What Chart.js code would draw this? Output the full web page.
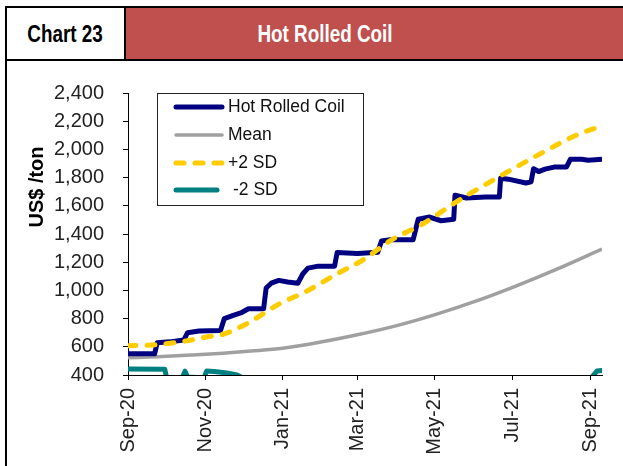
<!DOCTYPE html>
<html>
<head>
<meta charset="utf-8">
<script src="https://cdn.jsdelivr.net/npm/chart.js@4.4.1/dist/chart.umd.min.js"></script>
<style>
  html, body { margin: 0; padding: 0; background: #fff; }
  body { width: 623px; height: 466px; position: relative; overflow: hidden; font-family: "Liberation Sans", Arial, sans-serif; }
  .frame { position: absolute; left: 5px; top: 6px; width: 640px; height: 480px; border-left: 2px solid #000; border-top: 2px solid #000; }
  .hdr-line { position: absolute; left: 5px; top: 59px; width: 640px; height: 2px; background: #000; }
  .hdr-div { position: absolute; left: 124px; top: 6px; width: 2px; height: 55px; background: #000; }
  .hdr-red { position: absolute; left: 126px; top: 8px; width: 520px; height: 51px; background: #C0504D; }
  .hdr-text { position: absolute; top: 34px; transform: translate(-50%, -50%) scaleX(0.82); font-family: "Liberation Sans", sans-serif; font-weight: bold; font-size: 23px; white-space: nowrap; }
  #wrap { position: absolute; left: 8px; top: 62px; width: 615px; height: 404px; }
</style>
</head>
<body>
<div class="frame"></div>
<div class="hdr-red"></div>
<div class="hdr-line"></div>
<div class="hdr-div"></div>
<div class="hdr-text" style="left:65px;color:#000">Chart 23</div>
<div class="hdr-text" style="left:325px;color:#fff">Hot Rolled Coil</div>
<div id="wrap"><canvas id="chart" width="615" height="404"></canvas></div>
<script>
// days counted from 1 Sep 2020
const tickDays = [0, 61, 122, 181, 242, 303, 365];
const tickLabels = ['Sep-20', 'Nov-20', 'Jan-21', 'Mar-21', 'May-21', 'Jul-21', 'Sep-21'];

const hrcDays = [0, 21, 23, 33, 44, 47, 56, 73, 76, 83, 89, 95, 107, 109, 113, 119, 126, 134, 138, 142,
  150, 163, 165, 181, 197, 200, 207, 225, 229, 238, 247, 257, 258, 267, 282, 293, 294, 300, 314, 318,
  320, 324, 329, 337, 346, 349, 358, 363, 374];
const hrcValues = [550, 550, 628, 635, 648, 700, 712, 715, 800, 823, 840, 870, 870, 1017, 1051, 1071, 1060, 1051, 1118, 1158,
  1172, 1172, 1268, 1262, 1270, 1350, 1360, 1360, 1505, 1520, 1494, 1505, 1675, 1655, 1662, 1662, 1796, 1789, 1762, 1770,
  1863, 1843, 1860, 1876, 1876, 1930, 1930, 1923, 1930];

const meanDays = [0, 23, 50, 75, 97, 122, 150, 181, 212, 243, 275, 306, 337, 374];
const meanValues = [522, 530, 542, 555, 570, 590, 630, 685, 750, 830, 925, 1030, 1145, 1293];

const upperDays = [0, 23, 50, 61, 75, 95, 119, 140, 165, 187, 207, 233, 259, 274, 300, 327, 353, 374];
const upperValues = [608, 615, 648, 668, 689, 770, 903, 990, 1118, 1225, 1353, 1474, 1628, 1709, 1843, 1977, 2098, 2168];

const lowerDays = [0, 29, 31, 43, 45, 47, 60, 62, 68, 78, 86, 95, 140, 250, 330, 366, 370, 374];
const lowerValues = [442, 441, 360, 385, 427, 385, 380, 428, 425, 415, 400, 360, 250, 200, 260, 385, 428, 432];

const pts = (xs, ys) => xs.map((x, i) => ({ x, y: ys[i] }));

const tickFont = { family: 'Liberation Sans', size: 20 };

const yTitle = {
  id: 'yTitle',
  afterDraw(chart) {
    const ctx = chart.ctx;
    ctx.save();
    ctx.translate(29, 125);
    ctx.rotate(-Math.PI / 2);
    ctx.font = 'bold 20px "Liberation Sans"';
    ctx.fillStyle = '#000';
    ctx.textAlign = 'center';
    ctx.textBaseline = 'middle';
    ctx.fillText('US$ /ton', 0, 0);
    ctx.restore();
  }
};

const boxLegend = {
  id: 'boxLegend',
  afterDraw(chart) {
    const ctx = chart.ctx;
    ctx.save();
    ctx.fillStyle = '#fff';
    ctx.fillRect(149.5, 31.5, 206, 112);
    ctx.strokeStyle = '#222';
    ctx.lineWidth = 1;
    ctx.strokeRect(149.5, 31.5, 206, 112);
    const rows = [45, 73, 101, 128];
    const ends = [214, 214, 214, 209];
    chart.data.datasets.forEach((ds, i) => {
      const y = rows[i];
      ctx.beginPath();
      ctx.strokeStyle = ds.borderColor;
      ctx.lineWidth = ds.borderWidth;
      ctx.lineCap = 'round';
      ctx.setLineDash(ds.borderDash || []);
      ctx.moveTo(168, y);
      ctx.lineTo(ends[i], y);
      ctx.stroke();
      ctx.setLineDash([]);
      ctx.font = '17.5px "Liberation Sans"';
      ctx.fillStyle = '#111';
      ctx.textBaseline = 'middle';
      ctx.fillText(ds.label, i === 3 ? 225 : 220, y);
    });
    ctx.restore();
  }
};

new Chart(document.getElementById('chart'), {
  type: 'line',
  data: {
    datasets: [
      {
        label: 'Hot Rolled Coil',
        data: pts(hrcDays, hrcValues),
        borderColor: '#000080',
        borderWidth: 5,
        pointRadius: 0,
        tension: 0,
        borderJoinStyle: 'round',
        order: 1,
      },
      {
        label: 'Mean',
        data: pts(meanDays, meanValues),
        borderColor: '#A0A0A0',
        borderWidth: 3.5,
        pointRadius: 0,
        cubicInterpolationMode: 'monotone',
        order: 3,
      },
      {
        label: '+2 SD',
        data: pts(upperDays, upperValues),
        borderColor: '#FFCC00',
        borderWidth: 5,
        borderDash: [8, 11],
        borderCapStyle: 'round',
        pointRadius: 0,
        cubicInterpolationMode: 'monotone',
        order: 0,
      },
      {
        label: '-2 SD',
        data: pts(lowerDays, lowerValues),
        borderColor: '#008080',
        borderWidth: 5,
        borderCapStyle: 'round',
        borderJoinStyle: 'round',
        pointRadius: 0,
        tension: 0,
        clip: 0,
        order: 2,
      },
    ],
  },
  options: {
    responsive: false,
    animation: false,
    layout: { padding: { top: 15, right: 16, left: 0, bottom: 0 } },
    plugins: { legend: { display: false }, tooltip: { enabled: false } },
    scales: {
      x: {
        type: 'linear',
        min: 0,
        max: 374,
        afterBuildTicks: axis => { axis.ticks = tickDays.map(v => ({ value: v })); },
        afterFit: axis => { axis.height = 91; },
        ticks: {
          callback: v => tickLabels[tickDays.indexOf(v)] ?? '',
          minRotation: 90,
          maxRotation: 90,
          autoSkip: false,
          padding: 8,
          color: '#222',
          font: tickFont,
        },
        grid: { drawOnChartArea: false, drawTicks: true, tickLength: 5, color: '#000' },
        border: { display: true, color: '#000', width: 1 },
      },
      y: {
        min: 400,
        max: 2400,
        afterFit: axis => { axis.width = 120; },
        ticks: {
          stepSize: 200,
          callback: v => v.toLocaleString('en-US'),
          padding: 19,
          color: '#222',
          font: tickFont,
        },
        grid: { drawOnChartArea: false, drawTicks: true, tickLength: 5, color: '#000' },
        border: { display: true, color: '#000', width: 1 },
      },
    },
  },
  plugins: [yTitle, boxLegend],
});
</script>
</body>
</html>
